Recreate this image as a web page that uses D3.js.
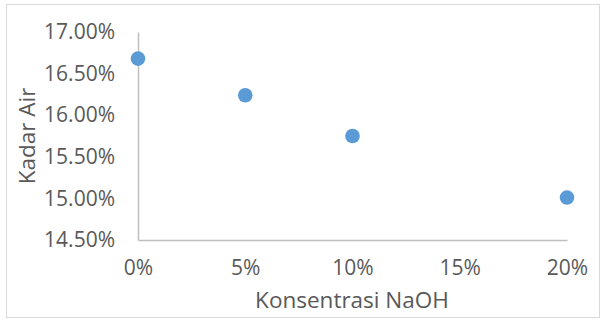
<!DOCTYPE html>
<html><head><meta charset="utf-8">
<script src="https://cdn.jsdelivr.net/npm/d3@7"></script>
<style>body{margin:0;background:#fff}svg{display:block}text{font-family:"Open Sans","Liberation Sans",sans-serif;fill:#595959}</style>
</head><body><svg id="c" width="606" height="323"></svg>
<script>
const concentrations = [0, 5, 10, 20];
const moisture = [16.68, 16.24, 15.75, 15.01];
const xTicks = [0, 5, 10, 15, 20];
const yTicks = [14.5, 15.0, 15.5, 16.0, 16.5, 17.0];
const xTitle = "Konsentrasi NaOH";
const yTitle = "Kadar Air";

const svg = d3.select("#c");
svg.append("rect").attr("x",6.5).attr("y",4.5).attr("width",593).attr("height",313)
  .attr("fill","#fff").attr("stroke","#d9d9d9").attr("stroke-width",1);

const x = d3.scaleLinear().domain([0,20]).range([138,567]);
const y = d3.scaleLinear().domain([14.5,17]).range([240,32]);

const fs = 21;
const ff = "'Open Sans','Liberation Sans',sans-serif";
const xAxis = d3.axisBottom(x).tickValues(xTicks).tickSize(0).tickPadding(20).tickFormat(d=>d+"%");
const gx = svg.append("g").attr("transform","translate(0,240)").call(xAxis);
gx.select(".domain").attr("stroke","#bfbfbf").attr("stroke-width",1.5);
gx.selectAll("text").attr("font-size",fs).attr("fill","#595959").style("font-family",ff);

const yAxis = d3.axisLeft(y).tickValues(yTicks).tickSize(0).tickPadding(23).tickFormat(d=>d.toFixed(2)+"%");
const gy = svg.append("g").attr("transform","translate(138,0)").call(yAxis);
gy.select(".domain").attr("stroke","#bfbfbf").attr("stroke-width",1.5);
gy.selectAll("text").attr("font-size",fs).attr("fill","#595959").style("font-family",ff);

svg.append("g").selectAll("circle").data(concentrations).join("circle")
  .attr("cx",(d)=>x(d)).attr("cy",(d,i)=>y(moisture[i])).attr("r",7.3).attr("fill","#5b9bd5");

svg.append("text").attr("x",352).attr("y",308).attr("text-anchor","middle").attr("font-size",22.5).text(xTitle);
svg.append("text").attr("transform","translate(35,136) rotate(-90)").attr("text-anchor","middle").attr("font-size",22.5).text(yTitle);
</script></body></html>
